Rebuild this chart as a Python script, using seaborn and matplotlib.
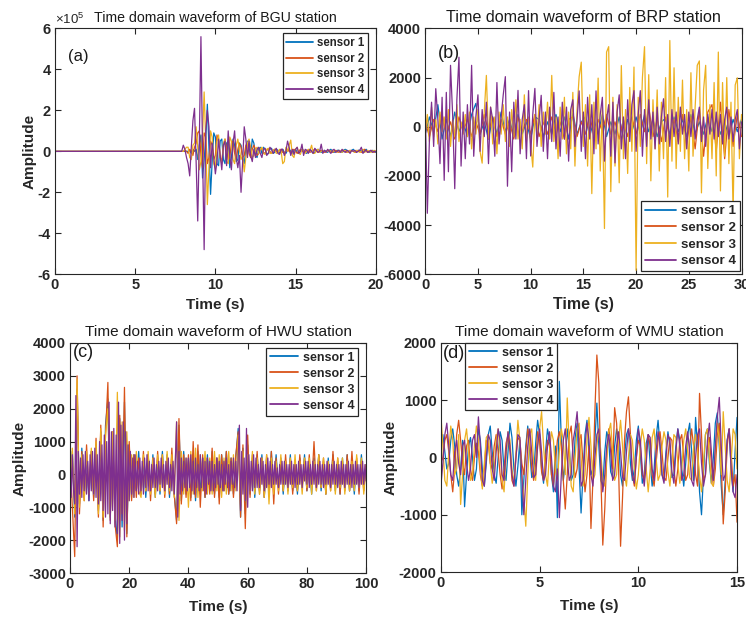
import numpy as np
import matplotlib
matplotlib.use("Agg")
import matplotlib.pyplot as plt
import seaborn as sns
from matplotlib.ticker import FuncFormatter, MultipleLocator

# ---------------- data ----------------
SENSORS = ["sensor 1", "sensor 2", "sensor 3", "sensor 4"]
COLORS = ["#0072BD", "#D95319", "#EDB120", "#7E2F8E"]

# (a) BGU station: first sample at t=0, then 7.8 .. 20.0 s every 0.1 s (amplitudes in units of 1e5)
BGU_SCALE = 1e5
bgu_t = np.concatenate([[0.0], np.linspace(7.8, 20.0, 123)])
bgu_s1 = [0,
    0, 0, 0, 0, 0, 0, 0.05, -0.1, 0.1, 0.0,
    0.1, -0.4, 0.3, 0.8, -1.3, -0.4, 0.6, 2.3, 0.2, -2.1,
    -0.5, 0.9, 0.7, -0.6, -0.7, 0.5, 0.6, -0.4, -0.6, 0.4,
    0.5, -0.8, -0.3, 0.6, 0.3, -0.5, -0.4, 0.4, 0.3, -0.3,
    -0.6, 0.1, 0.5, 0.2, -0.3, 0.6, 0.4, -0.2, -0.3, 0.1,
    0.2, -0.1, 0.2, 0.1, -0.15, -0.1, 0.1, 0.15, -0.1, -0.05,
    0.1, 0.05, -0.1, 0.0, 0.1, -0.05, -0.1, 0.05, 0.1, 0.0,
    -0.1, 0.05, 0.1, -0.05, -0.1, 0.0, 0.1, 0.05, -0.05, -0.1,
    0.05, 0.1, 0.0, -0.1, -0.05, 0.05, 0.1, 0.0, -0.05, 0.0,
    0.05, 0.0, -0.05, 0.05, 0.1, 0.0, -0.05, 0.0, 0.05, 0.05,
    0.0, -0.05, 0.05, 0.1, 0.05, 0.0, -0.05, 0.05, 0.1, 0.0,
    -0.05, 0.05, 0.05, 0.0, -0.05, 0.05, 0.1, 0.0, -0.05, 0.0,
    0.05, 0.0, -0.05]
bgu_s2 = [0,
    0, 0, 0, 0.05, 0.0, -0.1, 0.1, 0.0, -0.2, 0.2,
    0.4, 0.9, 1.0, -0.2, -0.8, 0.9, 0.7, -0.6, -0.3, 0.5,
    0.3, -0.4, -0.2, 0.8, 0.5, -0.3, -0.5, 0.2, 0.6, 0.1,
    -0.4, -0.3, 0.4, 0.5, -0.1, -0.4, 0.1, 0.4, 0.2, -0.3,
    -0.2, 0.3, 0.4, -0.1, -0.3, 0.1, 0.3, 0.1, -0.2, -0.1,
    0.1, 0.15, -0.05, -0.1, 0.05, 0.1, 0.0, -0.1, 0.05, 0.1,
    0.0, -0.05, 0.05, 0.1, -0.05, -0.1, 0.05, 0.1, 0.0, -0.05,
    0.05, 0.1, 0.0, -0.1, 0.0, 0.1, 0.05, -0.05, 0.0, 0.05,
    0.05, -0.05, 0.0, 0.05, 0.1, 0.0, -0.05, 0.0, 0.05, 0.0,
    -0.05, 0.0, 0.05, 0.05, 0.0, -0.05, 0.0, 0.05, 0.0, -0.05,
    0.0, 0.05, 0.05, 0.0, -0.05, 0.0, 0.05, 0.0, 0.0, -0.05,
    0.0, 0.05, 0.0, -0.05, 0.05, 0.1, 0.0, -0.05, 0.0, 0.05,
    0.0, -0.05, 0.0]
bgu_s3 = [0,
    0, 0, 0, 0.1, 0.2, 0.2, -0.3, -0.4, 0.3, 0.4,
    1.2, 0.2, -0.9, -0.5, 0.8, 2.9, 0.5, -2.6, -0.8, 1.0,
    0.7, -0.6, -0.8, 0.5, 0.8, -0.3, -0.6, 0.4, 0.6, -0.5,
    -0.6, 0.7, 0.5, -0.4, -0.6, 0.3, 0.6, 0.1, -0.4, -0.2,
    -1.0, -0.3, 0.4, 0.6, 0.2, -0.3, -0.2, 0.1, 0.2, -0.1,
    0.1, 0.2, -0.1, -0.15, 0.1, 0.15, -0.1, -0.1, 0.05, 0.1,
    -0.1, -0.05, 0.1, 0.0, -0.6, -0.5, 0.2, 0.0, 0.3, 0.55,
    -0.2, -0.3, 0.1, 0.2, -0.1, -0.15, 0.1, 0.05, -0.1, 0.0,
    0.1, 0.05, 0.3, -0.1, -0.1, 0.05, 0.1, -0.05, 0.0, 0.05,
    0.0, -0.05, 0.05, 0.0, -0.05, 0.05, 0.0, 0.0, -0.05, 0.05,
    0.0, -0.05, 0.0, 0.05, 0.0, -0.05, 0.05, 0.0, 0.0, -0.05,
    0.05, 0.0, -0.05, 0.0, 0.1, -0.05, 0.0, 0.05, 0.0, -0.05,
    0.0, 0.05, 0.0]
bgu_s4 = [0,
    0, 0, 0.3, 0.1, -0.3, -0.6, -1.2, 0.2, 1.5, 2.1,
    -0.5, -3.4, 0.5, 5.6, 0.0, -4.8, 1.0, 2.0, 1.2, -0.8,
    0.4, -0.3, -1.1, -0.5, 0.6, -0.2, -0.9, 0.3, 0.5, -0.7,
    1.0, -0.2, -0.9, 0.4, 1.0, -0.3, -0.8, -0.2, -2.0, -0.5,
    1.2, 0.6, -0.3, 0.5, -0.2, -0.5, 0.1, -0.3, 0.1, 0.2,
    -0.1, -0.3, 0.1, 0.15, -0.2, -0.1, 0.2, 0.1, -0.1, 0.05,
    0.15, -0.1, -0.15, 0.1, 0.1, -0.2, 0.0, 0.5, 0.2, -0.2,
    0.1, -0.15, 0.1, 0.2, -0.1, 0.0, 0.35, -0.2, 0.1, 0.05,
    -0.1, 0.1, 0.0, -0.1, 0.15, 0.05, -0.05, 0.0, 0.35, -0.1,
    0.05, -0.05, 0.1, 0.0, -0.1, 0.05, 0.1, -0.05, 0.0, 0.05,
    -0.05, 0.1, 0.0, -0.05, 0.05, 0.0, -0.1, 0.05, 0.0, 0.05,
    -0.05, 0.0, 0.05, 0.2, -0.1, 0.0, 0.05, -0.05, 0.0, 0.05,
    -0.05, 0.0, 0.0]

# (b) BRP station: sensors 3 and 4 every 0.2 s, sensors 1 and 2 every 0.4 s
brp_t_fine = np.linspace(0, 30, 151)
brp_t_coarse = np.linspace(0, 30, 76)
brp_s1 = [
    -300, 400, -200, 900, -500, 300, -400, 600, -200, 200,
    -400, 500, 950, -300, 200, -500, 400, -300, 600, -200,
    300, -400, 500, -300, 200, -500, 400, 300, -400, 200,
    -300, 500, -200, 400, -500, 550, -300, 200, 400, -400,
    300, -300, 500, -400, 200, -300, 400, -500, 300, -200,
    400, -300, 500, -200, 300, -400, 200, 350, -300, 400,
    -200, 300, -400, 500, -300, 200, -300, 400, -200, 300,
    -300, 200, -400, 300, -200, 300]
brp_s2 = [
    200, -400, 300, -200, 500, -300, 200, -500, 400, -200,
    300, -400, 200, -300, 500, -200, 400, -400, 300, -300,
    200, -500, 400, -200, 300, -300, 500, -400, 200, -300,
    400, -300, 200, -500, 300, 400, -400, 200, -300, 500,
    -400, 300, -200, 500, -300, 200, -500, 300, -400, 400,
    -300, 500, -200, 800, -400, 300, -600, 400, -500, 300,
    -600, 500, -700, 400, -900, 700, -1200, 600, 900, -1000,
    1000, -1300, 700, -800, 500, -400]
brp_s3 = [
    -300, 500, -600, 800, -400, 300, -700, 600, -200, 400,
    -500, 700, -800, 300, -400, 900, -600, 200, -300, 500,
    -400, 600, -900, 400, -300, 700, -1000, -1480, 600, 2090,
    -500, 800, -700, 400, -1100, 600, -300, 900, -600, 400,
    -800, 700, -400, 1100, -500, 300, -900, 1300, -600, 400,
    -700, -1640, 500, -400, 900, -800, 600, -300, 1000, -500,
    2090, -600, 400, -1300, 800, -500, 1200, -1100, 600, -900,
    1400, -1600, 700, 2040, 2630, -800, 900, -1600, 1300, -2720,
    1000, -900, 1980, -1800, 800, -4140, 3040, 3260, -2640, 1200,
    -1600, 900, -2280, 2490, -1300, 700, -1900, 1600, -1000, 2430,
    -5840, 1200, -800, 2000, 3260, -1500, 2120, -2200, 1100, -900,
    1500, -1800, 1000, -1300, 2000, -2860, 3510, -1400, 2400, -1700,
    1200, -1000, 1900, -1300, 700, -1800, 2200, -1200, 800, 2500,
    2680, -2690, 1500, 2500, -1700, 900, -1300, 1800, -2000, 3040,
    -2610, 1800, -1200, 2000, -1500, 1000, -3500, 1700, 1990, -1300,
    500]
brp_s4 = [
    800, -3520, -500, 1000, -800, 1550, 300, -1500, 1200, -2180,
    1400, -1830, 2500, 500, -2520, 1100, 2830, -1600, 600, -1300,
    900, -700, 2500, -1200, 400, 1300, -1000, 700, -400, 1000,
    -1500, 800, 300, -1200, 1800, -700, 400, 1300, 2040, -2420,
    600, -1830, 1000, -500, 1480, -1100, 300, 900, -1300, 1470,
    -1190, 500, 1560, -800, 300, 1280, -1000, 600, -1300, 800,
    -600, 1400, -900, 400, -1200, 1000, -500, 800, -1400, 700,
    1100, -800, 300, 1460, -1000, 600, -1300, 1200, -500, 900,
    -1100, 1460, -700, 500, 1200, -1400, 300, 900, -1200, 1000,
    -1470, 600, 1300, -900, 400, -1300, 1100, -600, 900, 1470,
    -1000, 500, 1470, -1200, 700, -800, 1100, -500, 600, -900,
    800, -700, 400, 1140, -600, 500, -800, 700, -400, 600,
    -700, 800, -300, 500, -900, 600, -400, 700, -500, 300,
    800, -600, 400, -800, 500, -300, 700, -500, 600, -400,
    500, -700, 300, 800, -500, 400, -600, 300, 700, -900,
    200]

# (c) HWU station: sensor 4 every 0.4 s, sensors 1-3 every 0.8 s
hwu_t_fine = np.linspace(0, 100, 251)
hwu_t_coarse = np.linspace(0, 100, 126)
hwu_s1 = [
    -800, 700, -1300, 2600, -900, 800, -700, 600, -800, 700,
    -700, 900, -1100, 1300, -1400, 1500, 2300, -1300, 1200, -1200,
    -2000, 1700, -1600, 2200, -1800, 900, -700, 600, -500, 700,
    -600, 500, -700, 600, -500, 600, -700, 500, -600, 700,
    -500, 600, -700, 500, -600, -1400, 1500, -800, 700, -600,
    500, -700, 600, -800, 700, -600, 500, -700, 600, -500,
    700, -600, 500, -700, 600, -500, 700, -600, 500, -600,
    500, 1400, -1300, 800, -1200, 900, -600, 500, -700, 600,
    -500, 600, -700, 500, -600, 700, -500, 600, -400, 500,
    -600, 400, -500, 600, -500, 400, -600, 500, -400, 600,
    -500, 400, -600, 500, -400, 600, -500, 400, -600, 500,
    -400, 600, -500, 400, -600, 500, -400, 600, -500, 400,
    -600, 400, -500, 600, -400, 300]
hwu_s2 = [
    600, -1000, -2500, 3000, -1200, 700, -800, 900, -600, 700,
    -800, 1100, -1300, 1500, -1600, 1200, 2800, -1400, 1300, -1500,
    -2200, 1800, -1200, 2650, -1900, 1000, -800, 600, -700, 500,
    -600, 700, -500, 600, -800, 500, -600, 700, -500, 600,
    -700, 500, -600, 800, -600, -1500, 1700, -900, 600, -700,
    600, -800, 1000, -700, 900, -1000, 600, -700, 500, -600,
    800, -700, 500, -900, 600, -500, 700, -600, 500, -700,
    600, 1300, -1300, 900, -1650, 1200, -700, 600, -500, 700,
    -600, 500, -700, 600, -500, 700, -900, 500, -600, 400,
    -500, 600, -400, 500, -600, 400, -500, 600, -400, 500,
    -500, 600, -400, 1000, -500, 600, -400, 500, -600, 400,
    -500, 700, -400, 500, -600, 400, -500, 600, -500, 700,
    -400, 500, -600, 400, -500, 300]
hwu_s3 = [
    -600, 800, -1200, 2900, -1000, 600, -800, 700, -600, 800,
    -600, 1000, -1200, 1400, -1300, 1200, 2000, -1300, 1300, -1400,
    2500, -1900, 1600, -1700, 1300, -800, 600, -700, 700, -500,
    -700, 600, -500, 700, -600, 500, -700, 600, -500, 600,
    -600, 700, -500, 600, -700, 1600, -1400, 700, -600, 500,
    -1000, 700, -600, 800, -700, 600, -500, 700, -600, 500,
    -600, 700, -500, 600, -700, 500, -600, 700, -500, 600,
    -500, 1200, -900, 700, -800, 600, -500, 700, -600, 500,
    -600, 500, -700, 600, -900, 500, -600, 400, -500, 600,
    -500, 400, -600, 500, -400, 600, -500, 400, -600, 500,
    -400, 500, -600, 400, -500, 600, -400, 500, -600, 400,
    -500, 400, -600, 500, -400, 500, -600, 400, -500, 400,
    -500, 600, -400, 500, -600, 300]
hwu_s4 = [
    800, -700, 600, -500, -900, 2400, -2200, 700, -600, 500,
    -700, 600, -500, 700, -600, 400, -800, 600, -500, 700,
    -600, 800, -700, 600, -900, 1000, -800, 900, -1100, 1200,
    -1300, 1000, -1200, 2200, -1500, 1300, -1100, 1400, -1600, 1200,
    -1800, 2200, -2100, 1500, -1400, 1600, -2000, 1300, -1500, 900,
    -800, 700, -600, 500, -700, 600, -500, 400, -600, 500,
    -500, 400, -600, 500, -400, 600, -500, 400, -500, 300,
    -400, 500, -400, 300, -500, 400, -300, 500, -400, 300,
    -500, 400, -300, 500, -400, 300, -500, 400, -600, 500,
    1600, -1300, 700, -600, 500, -500, 400, -400, 500, -500,
    500, -400, 600, -500, 400, -600, 500, -400, 300, -500,
    600, -400, 500, -500, 400, -600, 500, -300, 400, -500,
    400, -500, 300, -400, 500, -300, 400, -400, 300, -500,
    400, -300, 500, -400, 300, -500, 400, -300, 500, -400,
    400, -500, 600, 1500, -1100, 700, -600, 500, -800, 1400,
    -1000, 600, -500, 400, -500, 600, -400, 500, -400, 300,
    -400, 500, -300, 400, -500, 300, -400, 500, -300, 400,
    -400, 300, -300, 400, -300, 200, -400, 300, -300, 400,
    -300, 400, -300, 300, -400, 300, -300, 400, -300, 300,
    -400, 300, -300, 400, -300, 300, -400, 300, -200, 400,
    -300, 400, -400, 300, -300, 400, -300, 300, -400, 300,
    -300, 400, -300, 300, -400, 300, -300, 400, -300, 300,
    -400, 300, -300, 400, -300, 300, -400, 300, -300, 400,
    -300, 300, -400, 300, -300, 400, -300, 300, -400, 300,
    -300, 400, -300, 300, -400, 300, -300, 400, -300, 300,
    -200]

# (d) WMU station: all sensors every 0.1 s
wmu_t = np.linspace(0, 15, 151)
wmu_s1 = [
    250, 400, 100, -200, -100, 300, 500, 200, -300, -500,
    -200, 300, -860, -300, 200, 350, 0, -400, -200, 500,
    300, -200, -500, -100, 400, 550, 100, -300, -450, 0,
    450, 300, -250, -400, 100, 600, 350, -200, -500, -150,
    300, -1000, -400, 200, 550, 100, -350, -300, 250, 650,
    400, -200, -450, 100, 500, 300, -300, -600, 200, -1050,
    1330, 300, -400, -100, 500, 200, -400, -300, 350, 600,
    -200, -970, -300, 400, 650, 100, -300, -200, 300, 950,
    200, -400, -500, 100, 450, 300, -250, -350, 200, 500,
    300, -300, -500, 0, 400, 500, -100, -400, -200, 300,
    550, 100, -450, -300, 250, 400, -100, -500, -200, 350,
    650, 200, -300, -400, 100, 450, 200, -350, -300, 200,
    500, 300, -200, -500, -100, 400, 600, 100, -400, 700,
    200, -600, -1000, -300, 400, 500, -100, -450, 0, 600,
    780, 200, -500, -1000, -400, 300, 500, -200, -600, 100,
    700]
wmu_s2 = [
    -100, 0, 300, 400, 100, -300, -600, -200, 400, 650,
    300, -100, -300, 200, 300, -200, -400, 0, 250, 100,
    -300, -500, -200, 300, 250, -100, -200, 200, 400, 100,
    -300, -550, -200, 250, 400, 100, -400, -500, 0, 350,
    300, -100, -300, 100, 500, 300, -200, -400, -100, 450,
    300, -250, -400, 0, 300, 200, -300, -500, -100, 300,
    450, 200, -400, -900, -300, 400, 550, 0, -350, -200,
    300, 400, -100, -600, -300, 200, -1240, -400, 800, 1790,
    1300, -300, -1530, -900, 0, 500, 300, -200, 870, 600,
    -200, -1550, -700, 300, 800, 1060, 400, -300, -500, 0,
    300, 200, -300, -400, 100, 400, 200, -300, -500, -100,
    300, 450, 100, -350, -400, 0, 350, 300, -200, -500,
    -200, 300, 400, 0, -400, -300, 200, 500, 200, -300,
    -500, 1120, 400, -400, -300, 200, 350, -100, -500, -200,
    400, 600, -100, -1160, -600, 200, 500, 100, -500, -300,
    -1130]
wmu_s3 = [
    750, 200, -400, -500, 100, 550, 300, -300, -200, 400,
    -820, -300, 300, 500, 100, -400, -300, 200, 550, 300,
    -200, -550, -100, 350, 400, -100, -450, -200, 300, 500,
    100, -400, -600, 0, 450, 300, -200, -450, 100, 650,
    300, -300, -700, -1200, -300, 400, 500, -100, -400, 200,
    500, 800, 200, -300, -500, 100, 450, 300, -200, -400,
    100, 500, 300, -300, 1040, 200, -500, -600, 0, 500,
    600, 0, -500, -300, 300, 700, 200, -400, -300, 200,
    500, 100, -400, -500, 0, 450, 600, 100, -400, -300,
    300, 650, 200, -300, -500, 0, 400, 300, -200, -550,
    -300, 200, 500, 300, -200, -600, -200, 350, 500, 0,
    -400, -300, 200, 450, 300, -250, -500, -100, 400, 350,
    -100, -450, -200, 300, 500, 100, -350, -400, 200, 400,
    100, -300, -600, -100, 400, 500, 0, -450, -500, 100,
    600, 300, -300, 800, 200, -400, -600, -100, 500, 400,
    -200]
wmu_s4 = [
    -500, -100, 400, 600, 200, -300, -400, 100, 300, -100,
    -300, 200, 300, -100, -400, -200, 300, 400, 0, 710,
    200, -400, -500, 0, 400, 300, -200, -400, 100, 500,
    300, -300, -400, 100, 450, 200, -300, -500, 0, 400,
    350, -300, -1000, -400, 200, 500, 100, -350, -300, 200,
    500, 100, -400, -300, 200, 450, 0, -500, -600, -200,
    -1050, -300, 300, 500, 0, -400, -300, 300, 500, 800,
    200, -500, -400, 200, 600, 300, -300, -500, 0, 400,
    500, -100, -600, -300, 200, 400, 100, -400, -300, 200,
    450, 100, -350, -400, 100, 500, 300, -300, -450, 0,
    500, 300, -200, -500, -100, 400, 350, -200, -400, 100,
    450, 200, -300, -450, 0, 400, 300, -250, -450, 100,
    500, 200, -400, -300, 200, 450, 100, -400, -500, 0,
    400, 500, -100, -500, -300, 300, 600, 100, -400, 200,
    700, 1050, 200, -400, -300, 300, 500, -200, -600, -700,
    -300]

# ---------------- style ----------------
sns.set_theme(style="ticks")
plt.rcParams["font.family"] = ["Liberation Sans", "DejaVu Sans"]
plt.rcParams["font.weight"] = "bold"
plt.rcParams["axes.unicode_minus"] = False
plt.rcParams["mathtext.default"] = "regular"

fig = plt.figure(figsize=(7.46, 6.19), dpi=100)
ax_a = fig.add_axes([0.0737, 0.557, 0.430, 0.397])
ax_b = fig.add_axes([0.570, 0.557, 0.424, 0.397])
ax_c = fig.add_axes([0.0938, 0.0743, 0.397, 0.3716])
ax_d = fig.add_axes([0.591, 0.0759, 0.397, 0.370])


def draw(ax, times, series, scale=1.0):
    for lab, col, t, v in zip(SENSORS, COLORS, times, series):
        t = np.asarray(t, float)
        v = np.asarray(v, float) * scale
        assert len(t) == len(v), (lab, len(t), len(v))
        sns.lineplot(x=t, y=v, ax=ax, color=col, linewidth=0.9, label=lab,
                     estimator=None, sort=False)


def style(ax, xlim, xstep, ylim, ystep, title, tag, tagxy, tagsize,
          ylabel, labsize, xpad, legkw, legsize):
    ax.set_xlim(*xlim)
    ax.set_ylim(*ylim)
    ax.xaxis.set_major_locator(MultipleLocator(xstep))
    ax.yaxis.set_major_locator(MultipleLocator(ystep))
    ax.tick_params(direction="in", top=True, right=True, length=4, width=0.8,
                   labelsize=10.5, color="#262626", labelcolor="#262626", pad=3)
    for s in ax.spines.values():
        s.set_visible(True)
        s.set_color("#262626")
        s.set_linewidth(0.8)
    ax.set_title(title, fontsize=labsize[0], fontweight="normal", pad=5, color="#1a1a1a")
    ax.set_xlabel("Time (s)", fontsize=labsize[1], fontweight="bold", color="#262626",
                  labelpad=xpad)
    if ylabel:
        ax.set_ylabel("Amplitude", fontsize=labsize[1], fontweight="bold", color="#262626",
                      labelpad=1)
    else:
        ax.set_ylabel("")
    ax.text(tagxy[0], tagxy[1], tag, transform=ax.transAxes, fontsize=tagsize,
            fontweight="normal", ha="left", va="center", color="#1a1a1a")
    leg = ax.legend(fontsize=legsize, frameon=True, fancybox=False, framealpha=1,
                    edgecolor="#262626", borderpad=0.3, labelspacing=0.32,
                    handlelength=2.3, handletextpad=0.35, borderaxespad=0, **legkw)
    leg.get_frame().set_linewidth(0.9)
    for h in leg.legend_handles:
        h.set_linewidth(1.3)


# (a)
draw(ax_a, [bgu_t] * 4, [bgu_s1, bgu_s2, bgu_s3, bgu_s4], scale=BGU_SCALE)
style(ax_a, (0, 20), 5, (-6e5, 6e5), 2e5, "Time domain waveform of BGU station",
      "(a)", (0.04, 0.886), 12, True, (10.2, 11), 4,
      dict(loc="upper right", bbox_to_anchor=(0.975, 0.98)), 8.3)
fmt = FuncFormatter(lambda v, p: f"{v / BGU_SCALE:g}")
fmt.set_offset_string(r"$\times10^{5}$")
ax_a.yaxis.set_major_formatter(fmt)
ax_a.yaxis.get_offset_text().set_fontweight("normal")
ax_a.yaxis.get_offset_text().set_fontsize(9.5)

# (b)
draw(ax_b, [brp_t_coarse, brp_t_coarse, brp_t_fine, brp_t_fine],
     [brp_s1, brp_s2, brp_s3, brp_s4])
style(ax_b, (0, 30), 5, (-6000, 4000), 2000, "Time domain waveform of BRP station",
      "(b)", (0.041, 0.898), 13, False, (11.6, 11.5), 3,
      dict(loc="lower right", bbox_to_anchor=(0.994, 0.012)), 9.6)

# (c)
draw(ax_c, [hwu_t_coarse, hwu_t_coarse, hwu_t_coarse, hwu_t_fine],
     [hwu_s1, hwu_s2, hwu_s3, hwu_s4])
style(ax_c, (0, 100), 20, (-3000, 4000), 1000, "Time domain waveform of HWU station",
      "(c)", (0.01, 0.96), 13, True, (11.1, 11), 6,
      dict(loc="upper right", bbox_to_anchor=(0.973, 0.978)), 9)

# (d)
draw(ax_d, [wmu_t] * 4, [wmu_s1, wmu_s2, wmu_s3, wmu_s4])
style(ax_d, (0, 15), 5, (-2000, 2000), 1000, "Time domain waveform of WMU station",
      "(d)", (0.007, 0.956), 13, True, (11.1, 11), 6,
      dict(loc="upper left", bbox_to_anchor=(0.081, 1.0)), 9)

fig.savefig("out.png", dpi=100)
